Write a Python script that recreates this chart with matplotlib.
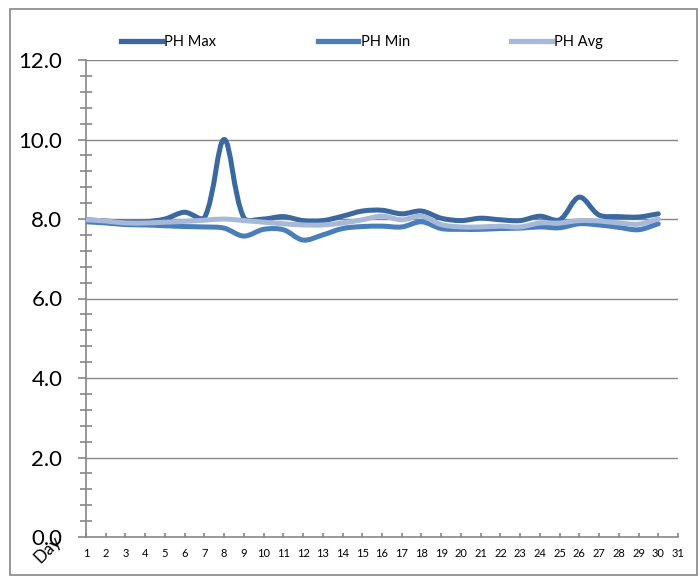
import matplotlib.pyplot as plt
import numpy as np
from matplotlib.path import Path
from matplotlib.patches import PathPatch, Rectangle
from matplotlib.lines import Line2D

plt.rcParams['font.family'] = ['Lato', 'DejaVu Sans']

days = list(range(1, 31))
ph_max = [7.98, 7.95, 7.92, 7.93, 8.0, 8.17, 8.03, 10.0, 8.03, 8.0,
          8.06, 7.96, 7.96, 8.07, 8.2, 8.22, 8.13, 8.2, 8.02, 7.96,
          8.02, 7.98, 7.96, 8.07, 7.98, 8.55, 8.1, 8.06, 8.05, 8.13]
ph_min = [7.93, 7.9, 7.86, 7.85, 7.83, 7.81, 7.8, 7.77, 7.57, 7.74,
          7.73, 7.47, 7.6, 7.76, 7.81, 7.82, 7.8, 7.93, 7.76, 7.74,
          7.74, 7.76, 7.77, 7.8, 7.78, 7.88, 7.85, 7.79, 7.73, 7.88]
ph_avg = [7.98, 7.95, 7.9, 7.9, 7.92, 7.94, 7.97, 8.0, 7.96, 7.92,
          7.88, 7.85, 7.85, 7.9, 7.98, 8.07, 7.98, 8.07, 7.86, 7.8,
          7.8, 7.82, 7.8, 7.9, 7.9, 7.96, 7.95, 7.9, 7.87, 8.0]
x_labels = [str(d) for d in range(1, 32)]

series = [("PH Max", ph_max, "#3A689F"),
          ("PH Min", ph_min, "#4A7EBB"),
          ("PH Avg", ph_avg, "#A7B9D9")]


def smooth_path(x, y, sx, sy):
    # Excel-like smoothed line: bezier segments, tangents weighted by
    # on-screen segment lengths (sx, sy = pixels per data unit)
    pts = np.column_stack([x, y]).astype(float)
    scr = pts * [sx, sy]
    n = len(pts)
    c_out, c_in = [], []
    for i in range(n):
        a = scr[max(i - 1, 0)]
        b = scr[min(i + 1, n - 1)]
        d1 = np.hypot(*(scr[i] - a))
        d2 = np.hypot(*(b - scr[i]))
        t = (pts[min(i + 1, n - 1)] - pts[max(i - 1, 0)])
        tot = d1 + d2 if d1 + d2 > 0 else 1
        c_out.append(pts[i] + t * d2 / tot / 3)
        c_in.append(pts[i] - t * d1 / tot / 3)
    verts = [pts[0]]
    codes = [Path.MOVETO]
    for i in range(n - 1):
        verts += [c_out[i], c_in[i + 1], pts[i + 1]]
        codes += [Path.CURVE4] * 3
    return Path(verts, codes)


fig = plt.figure(figsize=(7, 5.77), dpi=100)
ax = fig.add_axes([86 / 700, 1 - 537 / 577, (678 - 86) / 700, (537 - 60) / 577])

# outer chart border
fig.patches.append(Rectangle((10 / 700, 2 / 577), 687 / 700, 566 / 577,
                             transform=fig.transFigure, fill=False,
                             edgecolor="#868686", linewidth=1.2))

ax.set_xlim(1, 31)
ax.set_ylim(0, 12)
for v in np.arange(2, 12.1, 2):
    ax.axhline(v, color="#868686", linewidth=1, zorder=1)

sx = (678 - 86) / 30
sy = (537 - 60) / 12
handles = []
for name, vals, col in series:
    ax.add_patch(PathPatch(smooth_path(days, vals, sx, sy), facecolor="none",
                           edgecolor=col, linewidth=3.6, capstyle="round",
                           joinstyle="round", zorder=3))
    handles.append(Line2D([], [], color=col, linewidth=3.8, label=name))

for s in ["top", "right"]:
    ax.spines[s].set_visible(False)
for s in ["left", "bottom"]:
    ax.spines[s].set_color("#868686")
    ax.spines[s].set_linewidth(1.2)

ax.set_yticks(np.arange(0, 12.1, 2))
ax.set_yticklabels([f"{v:.1f}" for v in np.arange(0, 12.1, 2)], fontsize=16)
ax.set_yticks(np.arange(0, 12.01, 0.4), minor=True)
ax.tick_params(axis="y", which="major", direction="out", length=6,
               width=1.2, color="#868686", pad=11)
ax.tick_params(axis="y", which="minor", direction="inout", length=8,
               width=1.2, color="#868686")
ax.set_xticks(range(1, 32))
ax.set_xticklabels(x_labels, fontsize=8)
ax.tick_params(axis="x", direction="in", length=3, width=1.2,
               color="#868686", pad=8)

fig.text(48 / 700, 1 - 549 / 577, "Day", rotation=45, fontsize=12.5,
         ha="center", va="center")

fig.legend(handles=handles, ncol=3, frameon=False, fontsize=10.5,
           loc="center left", bbox_to_anchor=(108 / 700, 1 - 42 / 577),
           handlelength=2.8, handletextpad=0.15, columnspacing=6.95)

fig.savefig("out.png", dpi=100)
